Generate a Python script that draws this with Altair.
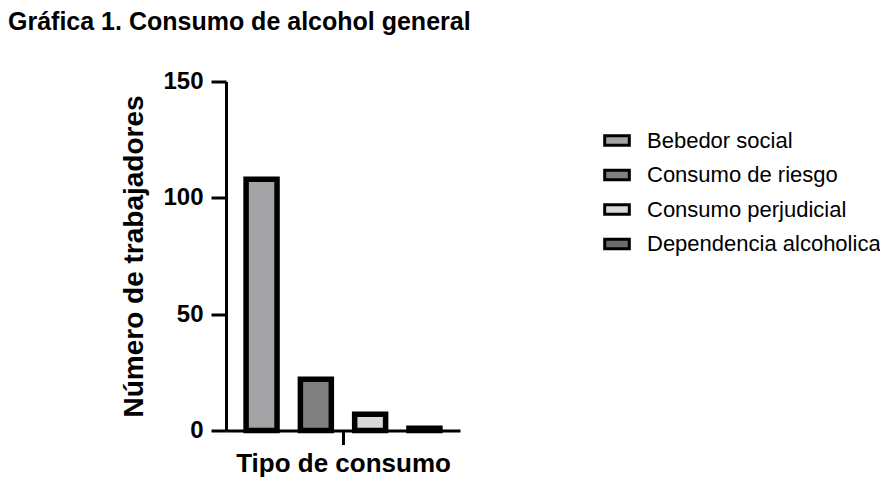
import altair as alt
import pandas as pd

categorias = ["Bebedor social", "Consumo de riesgo", "Consumo perjudicial", "Dependencia alcoholica"]
trabajadores = [108, 22, 7, 1]
colores = ["#a3a3a6", "#808080", "#d9d9d9", "#6b6b6b"]
grupo = ["Tipo de consumo"] * 4
y_ticks = [0, 50, 100, 150]

df = pd.DataFrame({"grupo": grupo, "tipo": categorias, "n": trabajadores})

FONT = "Liberation Sans, Arial"

chart = alt.Chart(df).mark_bar(stroke="black", strokeWidth=5.5, strokeJoin="miter").encode(
    x=alt.X("grupo:N", scale=alt.Scale(paddingInner=0, paddingOuter=0),
            axis=alt.Axis(title="Tipo de consumo", labels=False, ticks=True, tickSize=14,
                          tickWidth=3, tickColor="black", domainColor="black", domainWidth=3,
                          titleFontSize=26, titleFont=FONT, titleFontWeight="bold",
                          titleColor="black", titlePadding=4)),
    xOffset=alt.XOffset("tipo:N", sort=categorias,
                        scale=alt.Scale(paddingInner=0.43, paddingOuter=0.37)),
    y=alt.Y("n:Q", scale=alt.Scale(domain=[0, 150], nice=False),
            axis=alt.Axis(title="Número de trabajadores", values=y_ticks, tickSize=15,
                          tickWidth=3, tickColor="black", domainColor="black", domainWidth=3,
                          grid=False, labelFontSize=24, labelFont=FONT, labelFontWeight="bold",
                          labelColor="black", labelPadding=8, titleFontSize=28, titleFont=FONT,
                          titleFontWeight="bold", titleColor="black", titlePadding=14)),
    color=alt.Color("tipo:N", sort=categorias,
                    scale=alt.Scale(domain=categorias, range=colores),
                    title=None,
                    legend=alt.Legend(orient="none", legendX=377, legendY=45, padding=0,
                                      symbolType="M-1,-0.385H1V0.385H-1Z", symbolSize=605,
                                      symbolStrokeColor="black", symbolStrokeWidth=3,
                                      symbolOpacity=1, labelFontSize=22, labelFont=FONT,
                                      labelColor="black", labelOffset=16, rowPadding=9.5,
                                      labelLimit=400)),
).properties(
    width=234,
    height=349,
    background="white",
    title=alt.TitleParams("Gráfica 1. Consumo de alcohol general", anchor="start", frame="group",
                          dx=-218, fontSize=25, font=FONT, fontWeight="bold", color="black",
                          offset=35),
    autosize=alt.AutoSizeParams(type="none"),
    padding={"left": 218, "top": 73.5, "right": 420, "bottom": 50},
).configure_view(stroke=None)

chart.save("out.html", embed_options={"renderer": "svg", "actions": False})
